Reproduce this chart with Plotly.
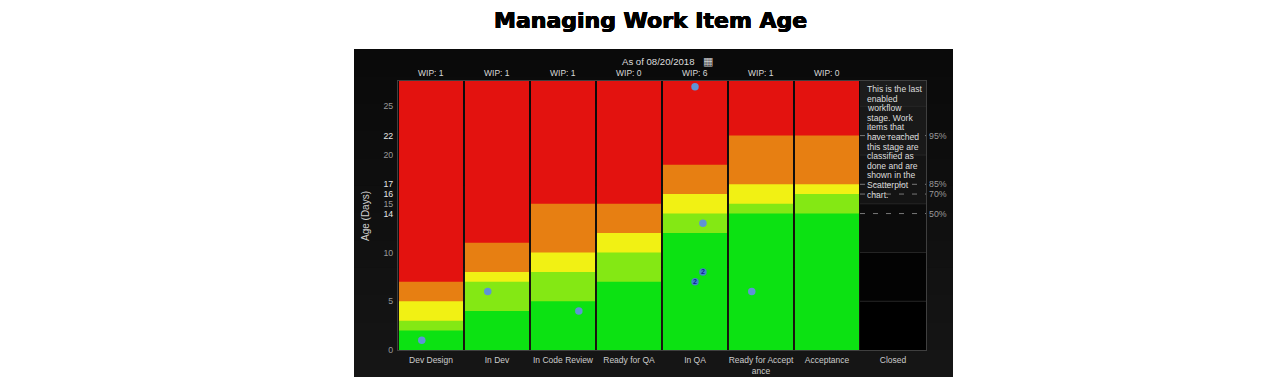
import plotly.graph_objects as go

categories = ["Dev Design", "In Dev", "In Code Review", "Ready for QA", "In QA",
              "Ready for Accept<br>ance", "Acceptance", "Closed"]
wip_labels = ["WIP: 1", "WIP: 1", "WIP: 1", "WIP: 0", "WIP: 6", "WIP: 1", "WIP: 0"]
green_top = [2, 4, 5, 7, 12, 14, 14]
lime_top = [3, 7, 8, 10, 14, 15, 16]
yellow_top = [5, 8, 10, 12, 16, 17, 17]
orange_top = [7, 11, 15, 15, 19, 22, 22]
red_top = [28, 28, 28, 28, 28, 28, 28]

single_x = [0.36, 1.36, 2.74, 4.5, 4.62, 5.36]
single_y = [1, 6, 4, 27, 13, 6]
double_x = [4.62, 4.5]
double_y = [8, 7]
double_text = ["2", "2"]

y_ticks = [0, 5, 10, 14, 15, 16, 17, 20, 22, 25]
y_bright = [14, 16, 17, 22]
grid_levels = [5, 10, 15, 20, 25]
closed_band_tops = [28, 25, 20, 15, 10, 5]
closed_band_colors = ["#1c1c1c", "#191919", "#141414", "#0b0b0b", "#030303", "#000000"]
pct_levels = [22, 17, 16, 14]
pct_labels = ["95%", "85%", "70%", "50%"]

note_lines = ["This is the last", "enabled", "workflow", "stage. Work", "items that",
              "have reached", "this stage are", "classified as", "done and are",
              "shown in the", "Scatterplot", "chart."]

panel_shades = ["#0a0a0a", "#0b0b0b", "#0c0c0c", "#0d0d0d", "#0e0e0e", "#0f0f0f",
                "#101010", "#111111", "#121212", "#131313", "#141414", "#151515"]

FONT = "Liberation Sans"
OFF = 8  # page body margin
W, H = 1280, 384
PLOT_L, PLOT_R, PLOT_T, PLOT_B = 398 - OFF, 926 - OFF, 81 - OFF, 350 - OFF
n_bars = len(green_top)
x_bars = [i + 0.5 for i in range(n_bars)]
n_cat = len(categories)


def px(x):
    return (x - OFF - PLOT_L) / (PLOT_R - PLOT_L)


def py(y):
    return (PLOT_B - (y - OFF)) / (PLOT_B - PLOT_T)


fig = go.Figure()

for top, col in zip(closed_band_tops, closed_band_colors):
    fig.add_trace(go.Bar(x=[n_bars + 0.5], y=[top], width=1, marker=dict(color=col, line=dict(width=0))))

for lvl in grid_levels:
    fig.add_trace(go.Scatter(x=[n_bars, n_cat], y=[lvl, lvl], mode="lines",
                             line=dict(color="#262626", width=1), hoverinfo="skip"))

for vals, col in [(red_top, "#e3120f"), (orange_top, "#e77f12"), (yellow_top, "#f1f114"),
                  (lime_top, "#84e814"), (green_top, "#0ce212")]:
    fig.add_trace(go.Bar(x=x_bars, y=vals, width=0.97, marker=dict(color=col, line=dict(width=0))))

for lvl in pct_levels:
    fig.add_trace(go.Scatter(x=[n_bars, n_cat], y=[lvl, lvl], mode="lines",
                             line=dict(color="#777777", width=1, dash="5px,8px"), hoverinfo="skip"))

fig.add_trace(go.Scatter(x=single_x, y=single_y, mode="markers",
                         marker=dict(size=7.5, color="#5f93d6")))
fig.add_trace(go.Scatter(x=double_x, y=double_y, mode="markers+text", text=double_text,
                         textposition="middle center",
                         textfont=dict(size=7, color="#10209a", family=FONT, weight="bold"),
                         marker=dict(size=7.5, color="#3f86c8")))

ann = []
for i, t in enumerate(wip_labels):
    ann.append(dict(x=i + 0.5, y=1, xref="x", yref="paper", yanchor="bottom", yshift=1,
                    text=t, showarrow=False, font=dict(size=8.5, color="#d8d8d8", family=FONT)))
for lvl, t in zip(pct_levels, pct_labels):
    ann.append(dict(x=n_cat, y=lvl, xref="x", yref="y", xanchor="left", xshift=1,
                    text=t, showarrow=False, font=dict(size=8.8, color="#999999", family=FONT)))
for i, t in enumerate(note_lines):
    ann.append(dict(x=n_bars, y=1, xref="x", yref="paper", xanchor="left", yanchor="middle",
                    xshift=5, yshift=-8 - i * 9.6, align="left", text=t, showarrow=False,
                    font=dict(size=8.6, color="#dddddd", family=FONT)))
ann.append(dict(x=px(658.5), y=py(61), xref="paper", yref="paper", yanchor="middle", xanchor="center",
                text="As of 08/20/2018", showarrow=False,
                font=dict(size=9.6, color="#dddddd", family=FONT)))
ann.append(dict(x=px(707.5), y=py(61), xref="paper", yref="paper", yanchor="middle", xanchor="center",
                text="▦", showarrow=False,
                font=dict(size=11, color="#cccccc", family="DejaVu Sans")))
ann.append(dict(x=px(650), y=py(21), xref="paper", yref="paper", yanchor="middle", xanchor="center",
                text="Managing Work Item Age", showarrow=False,
                font=dict(size=22, color="#000000", family="DejaVu Sans", weight="bold",
                          shadow="0.5px 0 0 #000, -0.5px 0 0 #000, 0 0.4px 0 #000, 0 -0.4px 0 #000")))
ann.append(dict(x=px(365), y=py(216), xref="paper", yref="paper", yanchor="middle", xanchor="center",
                text="Age (Days)", textangle=-90, showarrow=False,
                font=dict(size=10, color="#cfcfcf", family=FONT)))

strip_h = (377 - 49) / len(panel_shades)
shapes = [dict(type="rect", xref="paper", yref="paper", layer="below",
               x0=px(354), x1=px(953), y0=py(377), y1=py(49 + i * strip_h),
               fillcolor=c, line=dict(width=0))
          for i, c in enumerate(panel_shades)]

fig.update_layout(
    width=W, height=H, autosize=False, showlegend=False, barmode="overlay",
    paper_bgcolor="#ffffff", plot_bgcolor="#2e2e2e",
    margin=dict(l=PLOT_L, r=W - PLOT_R, t=PLOT_T, b=H - PLOT_B, pad=0),
    annotations=ann, shapes=shapes,
    font=dict(family=FONT),
    xaxis=dict(range=[0, n_cat], tickmode="array", tickvals=[i + 0.5 for i in range(n_cat)],
               ticktext=categories, ticks="outside", ticklen=2, tickcolor="rgba(0,0,0,0)",
               showgrid=False, zeroline=False,
               showline=True, mirror=True, linecolor="#3f3f3f", linewidth=1,
               tickangle=0, tickfont=dict(size=8.5, color="#cccccc", family=FONT)),
    yaxis=dict(range=[0, 27.6], tickmode="array", tickvals=y_ticks,
               ticktext=[f'<span style="color:#e6e6e6">{v}</span>' if v in y_bright else str(v) for v in y_ticks],
               ticks="outside", ticklen=2, tickcolor="rgba(0,0,0,0)",
               showgrid=False, zeroline=False, showline=True, mirror=True,
               linecolor="#3f3f3f", linewidth=1,
               tickfont=dict(size=8.8, color="#999999", family=FONT)),
)

fig.write_html("out.html")
